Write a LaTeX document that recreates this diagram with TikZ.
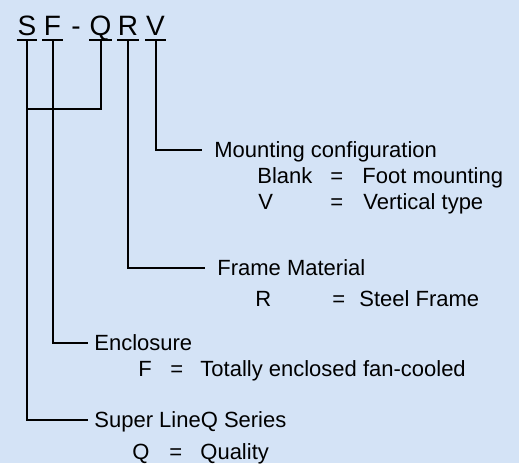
\documentclass[tikz,border=0pt]{standalone}
\usepackage{fontspec}
\setmainfont{Liberation Sans}
\usetikzlibrary{positioning}
\definecolor{paleblue}{RGB}{212,227,246}

\begin{document}
\begin{tikzpicture}[
    x=0.5pt,y=-0.5pt,
    letter/.style={font=\fontsize{14}{16}\selectfont,anchor=base,inner xsep=0pt,inner ysep=2.5pt,text depth=0pt,minimum width=10pt},
    heading/.style={font=\fontsize{11}{13}\selectfont,anchor=west,inner xsep=3pt,inner ysep=0pt,text height=7.9pt,text depth=0pt},
    entry/.style={font=\fontsize{11}{13}\selectfont,anchor=base west,inner sep=0pt},
    link/.style={line width=1pt},
  ]
  \fill[paleblue] (0,0) rectangle (519,463);
  \useasboundingbox (0,0) rectangle (519,463);

  % model code letters
  \node[letter] (s) at (27,35) {S};
  \node[letter] (f) at (52.5,35) {F};
  \node[letter,minimum width=0pt] (dash) at (76,35) {-};
  \node[letter] (q) at (100.5,35) {Q};
  \node[letter] (r) at (128,35) {R};
  \node[letter] (v) at (155.5,35) {V};
  \foreach \c in {s,f,q,r,v}
    \draw[link] (\c.south west) -- (\c.south east);

  % headings
  \node[heading,inner xsep=6pt] (mount) at (202,149.5) {Mounting configuration};
  \node[heading,inner xsep=6pt] (frame) at (205,268) {Frame Material};
  \node[heading] (encl) at (88,343) {Enclosure};
  \node[heading] (super) at (88,420) {Super LineQ Series};

  % code values
  \foreach \n/\kx/\ex/\mx/\y/\k/\m in {
      blank/257/330/362/183/Blank/Foot mounting,
      vert/258/330/363/209/V/Vertical type,
      steel/255/332/359/306/R/Steel Frame,
      tefc/138/170/200/376/F/Totally enclosed fan-cooled,
      qual/132/169/200/459/Q/Quality}
  {
    \node[entry] (\n-key) at (\kx,\y) {\k};
    \node[entry] (\n-eq) at (\ex,\y) {=};
    \node[entry] (\n-val) at (\mx,\y) {\m};
  }

  % connectors
  \coordinate (join) at (27,109);
  \draw[link] (q.south) |- (join);
  \draw[link] (v.south) |- (mount.west);
  \draw[link] (r.south) |- (frame.west);
  \draw[link] (f.south) |- (encl.west);
  \draw[link] (s.south) |- (super.west);
\end{tikzpicture}
\end{document}
